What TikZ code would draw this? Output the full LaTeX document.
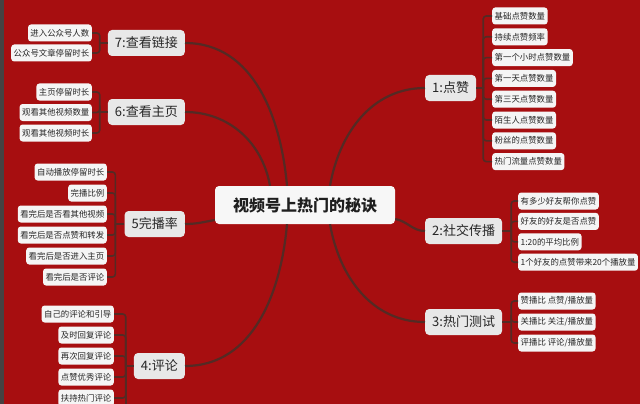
\documentclass[tikz,border=0pt]{standalone}
\usepackage{fontspec}
\setmainfont{Noto Sans CJK SC}
\usetikzlibrary{calc}
\definecolor{bgred}{RGB}{167,14,16}
\definecolor{stripgray}{RGB}{70,66,66}
\definecolor{linkbrown}{RGB}{84,42,36}
\definecolor{txtgray}{RGB}{38,38,38}
\tikzset{
  hub/.style={fill=white!97!black, rounded corners=4pt, text=black!88, font=\bfseries\fontsize{16}{18}\selectfont, minimum height=38pt, inner xsep=18pt},
  branch/.style={fill=black!9, rounded corners=4pt, text=txtgray, font=\fontsize{13}{15}\selectfont, minimum height=26pt, inner xsep=7pt},
  leaf/.style={fill=white!96!black, rounded corners=3pt, text=txtgray, font=\fontsize{8.4}{10}\selectfont, minimum height=17pt, inner xsep=2.5pt, inner ysep=0pt},
  link/.style={linkbrown, line width=2.2pt},
  bracket/.style={linkbrown, line width=1.6pt, rounded corners=3pt},
}

\begin{document}
\begin{tikzpicture}[x=1pt, y=-1pt]
\useasboundingbox (0,0) rectangle (640,404);
\clip (0,0) rectangle (640,404);
\fill[bgred] (0,0) rectangle (640,404);
\fill[stripgray] (0,0) rectangle (4,404);

% centre
\node[hub] (c) at (305,205) {视频号上热门的秘诀};

% right side
\node[branch, anchor=west] (b1) at (425,88) {1:点赞};
\node[branch, anchor=west] (b2) at (425,231) {2:社交传播};
\node[branch, anchor=west] (b3) at (425,322) {3:热门测试};
% left side
\node[branch, anchor=east] (b4) at (185,366) {4:评论};
\node[branch, anchor=east] (b5) at (185,224) {5完播率};
\node[branch, anchor=east] (b6) at (185,112) {6:查看主页};
\node[branch, anchor=east] (b7) at (185,43) {7:查看链接};

\draw[link] (b7.east) to[out=0,in=95] ([xshift=-18pt]c.north);
\draw[link] (b6.east) to[out=0,in=100] ([xshift=-35pt]c.north);
\draw[link] (b1.west) to[out=180,in=80] ([xshift=25pt]c.north);
\draw[link] (b5.east) to[out=0,in=190] ([yshift=-15pt]c.west);
\draw[link] ([yshift=-14pt]c.east) to[out=-10,in=180] (b2.west);
\draw[link] (b4.east) to[out=0,in=-95] ([xshift=-18pt]c.south);
\draw[link] (b3.west) to[out=180,in=-80] ([xshift=25pt]c.south);

% 1
\coordinate (k1) at ($(b1.east)+(7,0)$);
\draw[bracket] (b1.east) -- (k1);
\foreach \t [count=\i] in {基础点赞数量,持续点赞频率,第一个小时点赞数量,第一天点赞数量,第三天点赞数量,陌生人点赞数量,粉丝的点赞数量,热门流量点赞数量} {
  \node[leaf, anchor=west] (a\i) at (492,{16+(\i-1)*20.8}) {\t};
  \draw[bracket] (k1) |- (a\i.west);
}
% 2
\coordinate (k2) at ($(b2.east)+(9,0)$);
\draw[bracket] (b2.east) -- (k2);
\foreach \t [count=\i] in {有多少好友帮你点赞,好友的好友是否点赞,1:20的平均比例,1个好友的点赞带来20个播放量} {
  \node[leaf, anchor=west] (s\i) at (518,{201+(\i-1)*20.4}) {\t};
  \draw[bracket] (k2) |- (s\i.west);
}
% 3
\coordinate (k3) at ($(b3.east)+(9,0)$);
\draw[bracket] (b3.east) -- (k3);
\foreach \t [count=\i] in {赞播比 点赞/播放量,关播比 关注/播放量,评播比 评论/播放量} {
  \node[leaf, anchor=west] (h\i) at (518,{301+(\i-1)*21}) {\t};
  \draw[bracket] (k3) |- (h\i.west);
}
% 7
\coordinate (k7) at ($(b7.west)+(-8,0)$);
\draw[bracket] (b7.west) -- (k7);
\foreach \t [count=\i] in {进入公众号人数,公众号文章停留时长} {
  \node[leaf, anchor=east] (l\i) at (92,{33+(\i-1)*20}) {\t};
  \draw[bracket] (k7) |- (l\i.east);
}
% 6
\coordinate (k6) at ($(b6.west)+(-8,0)$);
\draw[bracket] (b6.west) -- (k6);
\foreach \t [count=\i] in {主页停留时长,观看其他视频数量,观看其他视频时长} {
  \node[leaf, anchor=east] (p\i) at (92,{92+(\i-1)*20.5}) {\t};
  \draw[bracket] (k6) |- (p\i.east);
}
% 5
\coordinate (k5) at ($(b5.west)+(-9,0)$);
\draw[bracket] (b5.west) -- (k5);
\foreach \t [count=\i] in {自动播放停留时长,完播比例,看完后是否看其他视频,看完后是否点赞和转发,看完后是否进入主页,看完后是否评论} {
  \node[leaf, anchor=east] (w\i) at (107,{172+(\i-1)*21}) {\t};
  \draw[bracket] (k5) |- (w\i.east);
}
% 4
\coordinate (k4) at ($(b4.west)+(-8,0)$);
\coordinate (k4end) at ($(k4)+(0,60)$);
\draw[bracket] (b4.west) -- (k4);
\draw[bracket] (k4) -- (k4end);
\foreach \t [count=\i] in {自己的评论和引导,及时回复评论,再次回复评论,点赞优秀评论,扶持热门评论} {
  \node[leaf, anchor=east] (r\i) at (114,{314+(\i-1)*21}) {\t};
  \draw[bracket] (k4) |- (r\i.east);
}
\end{tikzpicture}
\end{document}
